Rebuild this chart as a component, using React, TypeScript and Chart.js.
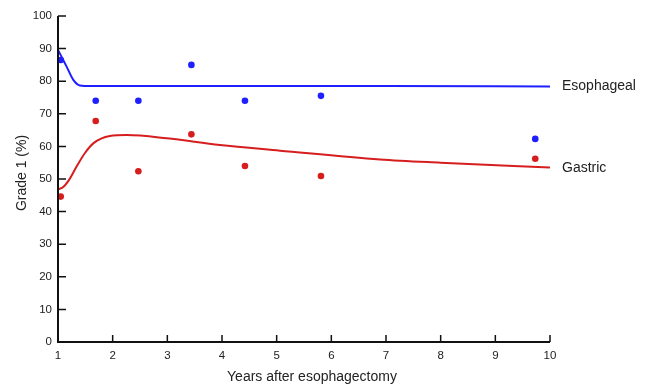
import React, { useEffect, useRef } from "react";
import { Chart, registerables } from "chart.js";

Chart.register(...registerables);

const obsYears = [1.05, 1.69, 2.47, 3.44, 4.42, 5.81, 9.73];
const esophagealObs = [86.5, 74, 74, 85, 74, 75.5, 62.3];
const gastricObs = [44.6, 67.8, 52.4, 63.7, 54, 50.9, 56.2];

const esoFitX = [1, 1.08, 1.16, 1.28, 1.4, 1.6, 2, 3, 5, 7, 10];
const esoFitY = [89.6, 87, 84.4, 80.4, 78.7, 78.5, 78.5, 78.5, 78.5, 78.5, 78.4];

const gasFitX = [1, 1.1, 1.22, 1.34, 1.49, 1.65, 1.95, 2.26, 2.99, 3.96, 5.06, 6.89, 8, 10];
const gasFitY = [46.8, 47.6, 50.2, 53.8, 57.9, 61, 63.2, 63.5, 62.5, 60.4, 58.7, 56.0, 55, 53.5];

const xTicks = [1, 2, 3, 4, 5, 6, 7, 8, 9, 10];
const yTicks = [0, 10, 20, 30, 40, 50, 60, 70, 80, 90, 100];

const BLUE = "#1f1fff";
const RED = "#d61e1e";
const FONT = "'Liberation Sans', Arial, Helvetica, sans-serif";

const zip = (xs: number[], ys: number[]) => xs.map((x, i) => ({ x, y: ys[i] }));

export default function App() {
  const ref = useRef<HTMLCanvasElement | null>(null);
  useEffect(() => {
    if (!ref.current) return;
    const decor = {
      id: "decor",
      afterDraw(chart: any) {
        const { ctx, scales, chartArea } = chart;
        const xs = scales.x;
        const ys = scales.y;
        const left = chartArea.left;
        const bottom = chartArea.bottom;
        ctx.save();
        ctx.strokeStyle = "#111";
        ctx.lineWidth = 2;
        ctx.beginPath();
        ctx.moveTo(left, ys.getPixelForValue(100));
        ctx.lineTo(left, bottom);
        ctx.lineTo(xs.getPixelForValue(10), bottom);
        ctx.stroke();
        ctx.lineWidth = 1.5;
        ctx.beginPath();
        xTicks.forEach((t) => {
          const px = xs.getPixelForValue(t);
          ctx.moveTo(px, bottom);
          ctx.lineTo(px, bottom - 7);
        });
        yTicks.forEach((t) => {
          const py = ys.getPixelForValue(t);
          ctx.moveTo(left, py);
          ctx.lineTo(left + 8, py);
        });
        ctx.stroke();
        ctx.fillStyle = "#222";
        ctx.font = `14px ${FONT}`;
        ctx.textBaseline = "middle";
        ctx.textAlign = "left";
        const lx = xs.getPixelForValue(10) + 12;
        ctx.fillText("Esophageal", lx, ys.getPixelForValue(esoFitY[esoFitY.length - 1]));
        ctx.fillText("Gastric", lx, ys.getPixelForValue(gasFitY[gasFitY.length - 1]) + 1);
        ctx.textAlign = "center";
        ctx.fillText("Years after esophagectomy", 312, 377);
        ctx.translate(22, 173);
        ctx.rotate(-Math.PI / 2);
        ctx.fillText("Grade 1 (%)", 0, 0);
        ctx.restore();
      },
    };
    const chart = new Chart(ref.current, {
      type: "scatter",
      data: {
        datasets: [
          {
            data: zip(esoFitX, esoFitY),
            showLine: true,
            borderColor: BLUE,
            borderWidth: 2,
            pointRadius: 0,
            cubicInterpolationMode: "monotone",
          } as any,
          {
            data: zip(gasFitX, gasFitY),
            showLine: true,
            borderColor: RED,
            borderWidth: 2,
            pointRadius: 0,
            cubicInterpolationMode: "monotone",
          } as any,
          {
            data: zip(obsYears, esophagealObs),
            showLine: false,
            pointRadius: 3.3,
            pointBackgroundColor: BLUE,
            pointBorderWidth: 0,
            borderColor: BLUE,
          },
          {
            data: zip(obsYears, gastricObs),
            showLine: false,
            pointRadius: 3.3,
            pointBackgroundColor: RED,
            pointBorderWidth: 0,
            borderColor: RED,
          },
        ],
      },
      options: {
        animation: false,
        responsive: false,
        layout: { padding: { top: 16, right: 102, left: 0, bottom: 0 } },
        plugins: { legend: { display: false }, tooltip: { enabled: false } },
        scales: {
          x: {
            type: "linear",
            min: 1,
            max: 10,
            grid: { display: false, drawTicks: false },
            border: { display: false },
            afterFit: (s: any) => {
              s.height = 47;
            },
            afterBuildTicks: (s: any) => {
              s.ticks = xTicks.map((v) => ({ value: v }));
            },
            ticks: {
              padding: 7,
              color: "#222",
              font: { family: FONT, size: 11.5 },
              maxRotation: 0,
            },
          },
          y: {
            type: "linear",
            min: 0,
            max: 100,
            grid: { display: false, drawTicks: false },
            border: { display: false },
            afterFit: (s: any) => {
              s.width = 58;
            },
            afterBuildTicks: (s: any) => {
              s.ticks = yTicks.map((v) => ({ value: v }));
            },
            ticks: {
              padding: 6,
              color: "#222",
              font: { family: FONT, size: 11.5 },
            },
          },
        },
      },
      plugins: [decor],
    });
    return () => chart.destroy();
  }, []);
  return (
    <div style={{ position: "fixed", left: 0, top: 0, width: 652, height: 389, background: "#fff" }}>
      <canvas ref={ref} width={652} height={389} style={{ width: 652, height: 389, display: "block" }} />
    </div>
  );
}
